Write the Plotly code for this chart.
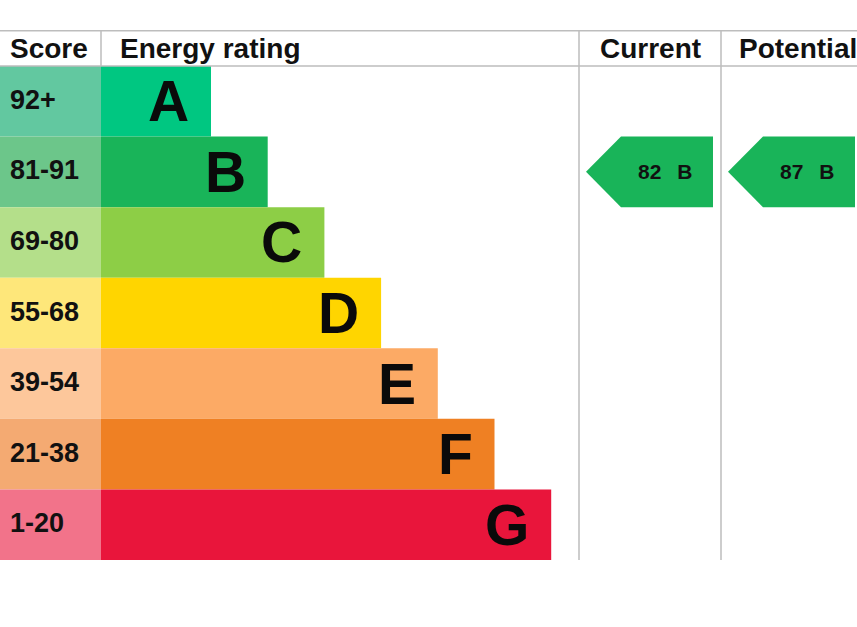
import plotly.graph_objects as go

# EPC bands
bands = ["A", "B", "C", "D", "E", "F", "G"]
score_ranges = ["92+", "81-91", "69-80", "55-68", "39-54", "21-38", "1-20"]
band_min = [92, 81, 69, 55, 39, 21, 1]
bar_colors = ["#00c781", "#19b459", "#8dce46", "#ffd500", "#fcaa65", "#ef8023", "#e9153b"]
score_colors = ["#62c8a0", "#6cc68a", "#b4df8a", "#fee77a", "#fdc79b", "#f4aa72", "#f2738a"]

current_score = 82
potential_score = 87

# layout in pixel-like units on the x axis
W, H = 857, 627
score_w = 101
bar_start = 101
bar_first = 110
bar_step = 56.7
col_current = 579
col_potential = 721
col_w = 142
line_col = "#bdbdbd"
font_fam = "Liberation Sans, Arial, Helvetica, sans-serif"


def band_of(score):
    for i, m in enumerate(band_min):
        if score >= m:
            return i
    return len(bands) - 1


rows = list(range(len(bands)))
bar_len = [bar_first + bar_step * i for i in rows]

fig = go.Figure()

fig.add_trace(go.Bar(
    y=rows, x=[score_w] * len(rows), base=0, orientation="h", width=1.0,
    marker=dict(color=score_colors, line=dict(width=0)), hoverinfo="skip",
))
fig.add_trace(go.Bar(
    y=rows, x=bar_len, base=bar_start, orientation="h", width=1.0,
    marker=dict(color=bar_colors, line=dict(width=0)), hoverinfo="skip",
))

# arrows for current / potential
for col, score in [(col_current, current_score), (col_potential, potential_score)]:
    b = band_of(score)
    tip = col + 7
    corner = tip + 35
    right = col + 134
    xs = [tip, corner, right, right, corner, tip]
    ys = [b, b - 0.5, b - 0.5, b + 0.5, b + 0.5, b]
    fig.add_trace(go.Scatter(
        x=xs, y=ys, fill="toself", fillcolor=bar_colors[b], mode="lines",
        line=dict(width=0, color=bar_colors[b]), hoverinfo="skip",
    ))
    fig.add_annotation(
        x=(corner + right) / 2 - 2, y=b,
        text="<b>%d\u00a0\u00a0\u2009%s</b>" % (score, bands[b]),
        showarrow=False, font=dict(size=21, color="#111111", family=font_fam),
    )

# band letters and score labels
for i in rows:
    fig.add_annotation(
        x=bar_start + bar_len[i] - 20, y=i, text="<b>%s</b>" % bands[i],
        xanchor="right", showarrow=False,
        font=dict(size=57, color="#0a0a0a", family=font_fam),
    )
    fig.add_annotation(
        x=8, y=i - 0.02, text="<b>%s</b>" % score_ranges[i], xanchor="left",
        showarrow=False, font=dict(size=27, color="#111111", family=font_fam),
    )

# header
head_y = -0.75
for txt, x, anchor in [("Score", 8, "left"), ("Energy rating", 118, "left"),
                       ("Current", col_current + col_w / 2, "center"),
                       ("Potential", 737, "left")]:
    fig.add_annotation(
        x=x, y=head_y, text="<b>%s</b>" % txt, xanchor=anchor, showarrow=False,
        font=dict(size=28, color="#111111", family=font_fam),
    )

# grid lines
shapes = [
    dict(type="line", x0=0, x1=W, y0=-1.0, y1=-1.0),
    dict(type="line", x0=0, x1=W, y0=-0.5, y1=-0.5),
    dict(type="line", x0=score_w, x1=score_w, y0=-1.0, y1=-0.5),
    dict(type="line", x0=col_current, x1=col_current, y0=-1.0, y1=6.5),
    dict(type="line", x0=col_potential, x1=col_potential, y0=-1.0, y1=6.5),
]
for s in shapes:
    s.update(xref="x", yref="y", line=dict(color=line_col, width=1.5), layer="above")

fig.update_layout(
    width=W, height=H, margin=dict(l=0, r=0, t=0, b=0),
    plot_bgcolor="white", paper_bgcolor="white",
    showlegend=False, barmode="overlay", shapes=shapes,
    xaxis=dict(range=[0, W], visible=False, fixedrange=True),
    yaxis=dict(range=[7.449, -1.435], visible=False, fixedrange=True),
)

fig.write_html("out.html", config={"displayModeBar": False},
               post_script="document.body.style.margin='0';")
